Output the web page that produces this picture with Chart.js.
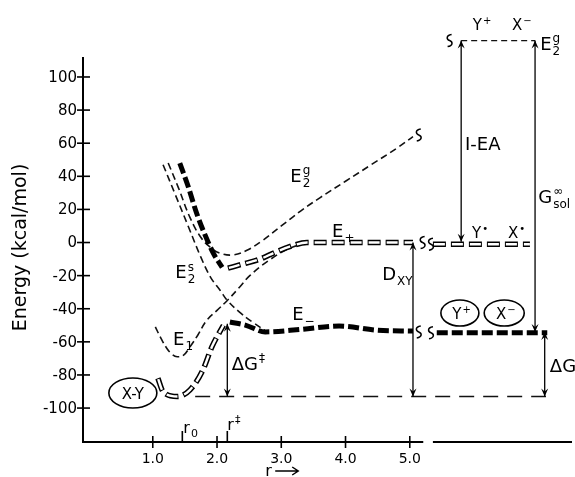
<!DOCTYPE html>
<html>
<head>
<meta charset="utf-8">
<script src="https://cdn.jsdelivr.net/npm/chart.js@4.4.0/dist/chart.umd.min.js"></script>
<style>
  html, body { margin: 0; padding: 0; background: #fff; }
  #chart { display: block; }
</style>
</head>
<body>
<canvas id="chart" width="575" height="477"></canvas>
<script>
// Curves (r in Angstrom, energy in kcal/mol)
const e2gR = [1.24, 1.4, 1.58, 1.75, 1.9, 2.05, 2.25, 2.45, 2.7, 3.0, 3.3, 3.6, 4.0, 4.4, 4.8, 5.05];
const e2gE = [48, 33, 15, 3, -3, -6.5, -7.5, -5, 1, 10, 19, 27, 37, 47, 57, 64];

const e2sR = [1.16, 1.35, 1.55, 1.75, 1.9, 2.05, 2.16, 2.35, 2.55, 2.78];
const e2sE = [47, 29, 10, -9, -21, -29, -35, -42, -48, -54];

const e1R = [1.04, 1.13, 1.22, 1.3, 1.38, 1.48, 1.58, 1.7, 1.84, 2.0, 2.16, 2.35, 2.51, 2.8, 3.1, 3.4];
const e1E = [-51, -58, -64, -67.5, -69, -68, -63, -56, -47, -41, -35, -27, -20, -11, -4, 0];

const wallR = [1.42, 1.55, 1.68, 1.82, 1.95, 2.08];
const wallE = [48, 34, 18, 4, -7, -15];

const ePlusR = [2.17, 2.4, 2.67, 2.9, 3.13, 3.4, 4.0, 4.5, 5.05];
const ePlusE = [-15.5, -13, -10, -6, -2.5, 0, 0, 0, 0];

const groundR = [1.08, 1.16, 1.38, 1.58, 1.78, 1.92, 2.1];
const groundE = [-82, -90, -93, -89, -77, -63, -50];

const eMinusR = [2.2, 2.45, 2.75, 3.3, 3.9, 4.5, 5.05];
const eMinusE = [-48, -50, -54, -52.5, -50.5, -53, -53.5];

const baseR = [1.66, 7.12];
const baseE = [-93, -93];

// separated ions (r -> infinity), drawn past the axis break
const ePlusInfR = [5.36, 6.87];
const ePlusInfE = [-1, -1];
const eMinusInfR = [5.42, 7.14];
const eMinusInfE = [-54.5, -54.5];
const e2gInfR = [5.8, 6.95];
const e2gInfE = [122, 122];

// axes
const yTicks = [100, 80, 60, 40, 20, 0, -20, -40, -60, -80, -100];
const xTicks = [1, 2, 3, 4, 5];
const xTickLabels = ['1.0', '2.0', '3.0', '4.0', '5.0'];
const rZero = 1.46;
const rStar = 2.16;

// vertical arrows: [r, from, to]
const arrows = [
  [2.16, -93, -49],
  [5.05, -93, 0],
  [5.8, 0.5, 122],
  [6.95, 122, -54],
  [7.1, -93, -54]
];

const FONT = '"DejaVu Sans", sans-serif';

const labels = [
  { x: 3.14, y: 36.6, main: 'E', sup: 'g', sub: '2' },
  { x: 3.79, y: 3.3, main: 'E', sub: '+' },
  { x: 1.35, y: -21.5, main: 'E', sup: 's', sub: '2' },
  { x: 1.316, y: -62, main: 'E', sub: '1' },
  { x: 3.17, y: -46.8, main: 'E', sub: '\u2212' },
  { x: 2.23, y: -77, main: '\u0394G', sup: '\u2021' },
  { x: 4.57, y: -22.7, main: 'D', sub: 'XY' },
  { x: 5.86, y: 55.9, main: 'I-EA' },
  { x: 7.0, y: 23.9, main: 'G', sup: '\u221e', sub: 'sol' },
  { x: 7.03, y: 116.3, main: 'E', sup: 'g', sub: '2' },
  { x: 5.98, y: 128.4, main: 'Y', sup: '+', size: 15 },
  { x: 6.59, y: 128.4, main: 'X', sup: '\u2212', size: 15 },
  { x: 5.97, y: 2.7, main: 'Y', sup: '\u2022', size: 15 },
  { x: 6.53, y: 2.7, main: 'X', sup: '\u2022', size: 15 },
  { x: 7.18, y: -78, main: '\u0394G' }
];

const ellipses = [
  { x: 0.69, y: -90.9, rx: 24, ry: 15, main: 'X-Y' },
  { x: 5.78, y: -42.6, rx: 19, ry: 13, main: 'Y', sup: '+' },
  { x: 6.47, y: -42.6, rx: 20, ry: 13, main: 'X', sup: '\u2212' }
];

const squiggles = [[5.2, 0], [5.33, -1], [5.14, -54], [5.33, -54.5], [5.62, 122], [5.14, 65]];

function pts(xs, ys) {
  return xs.map((x, i) => ({ x: x, y: ys[i] }));
}

function thin(data) {
  return { data: data, borderColor: '#111', borderWidth: 1.6, borderDash: [7, 4], order: 5,
    cubicInterpolationMode: 'default', tension: 0.4 };
}
function thick(data) {
  return { data: data, borderColor: '#000', borderWidth: 5, borderDash: [11, 4], order: 2 };
}
// hollow dashes = black dash with a white core on top
function hollow(data) {
  return [
    { data: data, borderColor: '#000', borderWidth: 5.5, borderDash: [13, 5], order: 1 },
    { data: data, borderColor: '#fff', borderWidth: 2.4, borderDash: [11, 7], borderDashOffset: -1, order: 0 }
  ];
}

function drawTerm(ctx, px, py, t) {
  const size = t.size || 18;
  ctx.font = size + 'px ' + FONT;
  ctx.textAlign = 'left';
  ctx.textBaseline = 'alphabetic';
  ctx.fillText(t.main, px, py);
  const w = ctx.measureText(t.main).width;
  ctx.font = Math.round(size * 0.68) + 'px ' + FONT;
  if (t.sup) ctx.fillText(t.sup, px + w + 1, py - size * 0.42);
  if (t.sub) ctx.fillText(t.sub, px + w + 1, py + size * 0.28);
}

function arrowHead(ctx, x, y, dir) {
  ctx.beginPath();
  ctx.moveTo(x, y);
  ctx.lineTo(x - 3.5, y - dir * 8);
  ctx.lineTo(x, y - dir * 5);
  ctx.lineTo(x + 3.5, y - dir * 8);
  ctx.closePath();
  ctx.fill();
}

function squiggle(ctx, x, y) {
  ctx.beginPath();
  ctx.moveTo(x + 2, y - 6);
  ctx.bezierCurveTo(x - 4, y - 5, x - 3, y - 1, x, y);
  ctx.bezierCurveTo(x + 3, y + 1, x + 4, y + 5, x - 2, y + 6);
  ctx.stroke();
}

const decor = {
  id: 'decor',
  afterDatasetsDraw(chart) {
    const ctx = chart.ctx;
    const sx = chart.scales.x, sy = chart.scales.y;
    const X = v => sx.getPixelForValue(v);
    const Y = v => sy.getPixelForValue(v);
    const area = chart.chartArea;
    ctx.save();
    ctx.strokeStyle = '#000';
    ctx.fillStyle = '#000';
    ctx.setLineDash([]);

    // axes
    ctx.lineWidth = 2;
    ctx.beginPath();
    ctx.moveTo(area.left, Y(112));
    ctx.lineTo(area.left, area.bottom);
    ctx.lineTo(X(5.21), area.bottom);
    ctx.moveTo(X(5.36), area.bottom);
    ctx.lineTo(area.right, area.bottom);
    ctx.stroke();

    ctx.lineWidth = 1.6;
    ctx.font = '15px ' + FONT;
    ctx.textAlign = 'right';
    ctx.textBaseline = 'middle';
    yTicks.forEach(v => {
      const py = Y(v);
      ctx.beginPath();
      ctx.moveTo(area.left - 6, py);
      ctx.lineTo(area.left + 7, py);
      ctx.stroke();
      ctx.fillText(String(v), area.left - 6, py + 1);
    });

    ctx.font = '14px ' + FONT;
    ctx.textAlign = 'center';
    ctx.textBaseline = 'alphabetic';
    xTicks.forEach((v, i) => {
      const px = X(v);
      ctx.beginPath();
      ctx.moveTo(px, area.bottom - 6);
      ctx.lineTo(px, area.bottom + 6);
      ctx.stroke();
      ctx.fillText(xTickLabels[i], px, area.bottom + 21);
    });
    [rZero, rStar].forEach(v => {
      ctx.beginPath();
      ctx.moveTo(X(v), area.bottom - 11);
      ctx.lineTo(X(v), area.bottom);
      ctx.stroke();
    });
    drawTerm(ctx, X(rZero) + 1, area.bottom - 9, { main: 'r', sub: '0', size: 16 });
    drawTerm(ctx, X(rStar), area.bottom - 12, { main: 'r', sup: '\u2021', size: 16 });

    // r ->
    ctx.font = '16px ' + FONT;
    ctx.textAlign = 'left';
    ctx.fillText('r', X(2.75), area.bottom + 34);
    ctx.lineWidth = 1.5;
    const ay = area.bottom + 29;
    ctx.beginPath();
    ctx.moveTo(X(2.75) + 10, ay);
    ctx.lineTo(X(2.75) + 32, ay);
    ctx.moveTo(X(2.75) + 27, ay - 4);
    ctx.lineTo(X(2.75) + 33, ay);
    ctx.lineTo(X(2.75) + 27, ay + 4);
    ctx.stroke();

    // y title
    ctx.save();
    ctx.translate(21, Y(-3));
    ctx.rotate(-Math.PI / 2);
    ctx.font = '19px ' + FONT;
    ctx.textAlign = 'center';
    ctx.textBaseline = 'middle';
    ctx.fillText('Energy (kcal/mol)', 0, 0);
    ctx.restore();

    // arrows
    ctx.lineWidth = 1.3;
    arrows.forEach(a => {
      const px = X(a[0]), p1 = Y(a[1]), p2 = Y(a[2]);
      ctx.beginPath();
      ctx.moveTo(px, p1);
      ctx.lineTo(px, p2);
      ctx.stroke();
      const d = p2 < p1 ? -1 : 1;
      arrowHead(ctx, px, p2, d);
      arrowHead(ctx, px, p1, -d);
    });

    // break marks
    ctx.lineWidth = 1.5;
    squiggles.forEach(s => squiggle(ctx, X(s[0]), Y(s[1])));

    // ellipses
    ellipses.forEach(e => {
      const px = X(e.x), py = Y(e.y);
      ctx.lineWidth = 1.6;
      ctx.beginPath();
      ctx.ellipse(px, py, e.rx, e.ry, 0, 0, Math.PI * 2);
      ctx.stroke();
      ctx.font = '15px ' + FONT;
      const w = ctx.measureText(e.main).width + (e.sup ? 6 : 0);
      drawTerm(ctx, px - w / 2, py + 6, { main: e.main, sup: e.sup, size: 15 });
    });

    // labels
    labels.forEach(l => drawTerm(ctx, X(l.x), Y(l.y), l));
    ctx.restore();
  }
};

new Chart(document.getElementById('chart'), {
  type: 'line',
  data: {
    datasets: [
      thin(pts(e2gR, e2gE)),
      thin(pts(e2sR, e2sE)),
      thin(pts(e1R, e1E)),
      thick(pts(wallR, wallE)),
      ...hollow(pts(ePlusR, ePlusE)),
      ...hollow(pts(groundR, groundE)),
      thick(pts(eMinusR, eMinusE)),
      { data: pts(baseR, baseE), borderColor: '#111', borderWidth: 1.6, borderDash: [15, 9], order: 6 },
      ...hollow(pts(ePlusInfR, ePlusInfE)),
      thick(pts(eMinusInfR, eMinusInfE)),
      { data: pts(e2gInfR, e2gInfE), borderColor: '#111', borderWidth: 1.3, borderDash: [6, 4], order: 6 }
    ]
  },
  options: {
    responsive: false,
    animation: false,
    devicePixelRatio: 1,
    layout: { padding: { left: 83, right: 3, top: 0, bottom: 35 } },
    elements: {
      point: { radius: 0, hoverRadius: 0 },
      line: { cubicInterpolationMode: 'monotone', fill: false }
    },
    plugins: { legend: { display: false }, tooltip: { enabled: false } },
    scales: {
      x: { type: 'linear', min: -0.086, max: 7.525, display: false },
      y: { type: 'linear', min: -120.5, max: 146.5, display: false }
    }
  },
  plugins: [decor]
});
</script>
</body>
</html>
